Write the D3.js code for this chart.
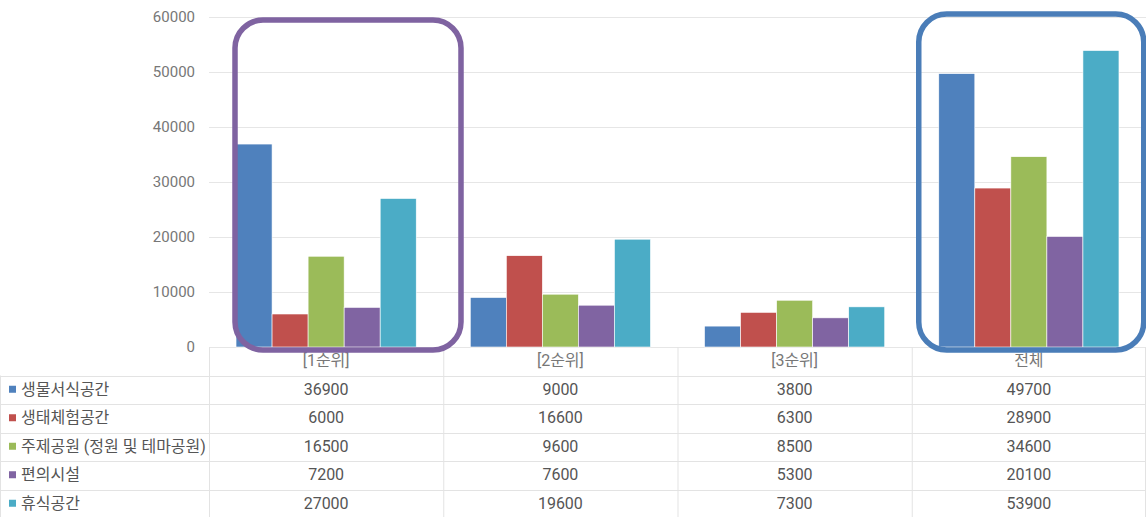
<!DOCTYPE html>
<html>
<head>
<meta charset="utf-8">
<script src="https://cdn.jsdelivr.net/npm/d3@7"></script>
<style>
  body { margin: 0; background: #fff; }
  text { font-family: Roboto, "Noto Sans CJK KR", sans-serif; }
</style>
</head>
<body>
<svg width="1146" height="517"></svg>
<script>
// chart data
var categories = ["[1순위]", "[2순위]", "[3순위]", "전체"];
var seriesNames = ["생물서식공간", "생태체험공간", "주제공원 (정원 및 테마공원)", "편의시설", "휴식공간"];
var seriesColors = ["#4f81bd", "#c0504d", "#9bbb59", "#8064a2", "#4bacc6"];
var bio = [36900, 9000, 3800, 49700];
var eco = [6000, 16600, 6300, 28900];
var theme = [16500, 9600, 8500, 34600];
var conv = [7200, 7600, 5300, 20100];
var rest = [27000, 19600, 7300, 53900];
var yTicks = [0, 10000, 20000, 30000, 40000, 50000, 60000];

var values = [bio, eco, theme, conv, rest];

var svg = d3.select("svg");
// note: "top" is taken by window.top, so use plot* names
var plotLeft = 209, plotRight = 1146, plotTop = 17, plotBottom = 347;
var rowH = 28.5;

var x = d3.scaleBand().domain(categories).range([plotLeft, plotRight]);
var xs = d3.scaleBand().domain(d3.range(seriesNames.length))
    .range([0, x.bandwidth()]).paddingOuter(0.75).paddingInner(0);
var y = d3.scaleLinear().domain([0, 60000]).range([plotBottom, plotTop]);

// gridlines
svg.append("g").selectAll("line").data(yTicks).join("line")
    .attr("x1", plotLeft).attr("x2", plotRight)
    .attr("y1", function(d){ return y(d) + 0.5 })
    .attr("y2", function(d){ return y(d) + 0.5 })
    .attr("stroke", "#e6e6e6").attr("stroke-width", 1);

// y axis labels
var yAxis = d3.axisLeft(y).tickValues(yTicks).tickFormat(d3.format("d")).tickSize(0).tickPadding(14);
var ya = svg.append("g").attr("transform", "translate(" + plotLeft + ",0)").call(yAxis);
ya.select(".domain").remove();
ya.selectAll("text").attr("font-size", 15).attr("fill", "#777");

// bars
var groups = svg.append("g").selectAll("g").data(categories).join("g")
    .attr("transform", function(d){ return "translate(" + x(d) + ",0)" });
groups.selectAll("rect").data(function(d, i){
        return values.map(function(s, j){ return {s: j, v: s[i]} })
    }).join("rect")
    .attr("x", function(d){ return xs(d.s) })
    .attr("width", xs.bandwidth())
    .attr("y", function(d){ return y(d.v) })
    .attr("height", function(d){ return y(0) - y(d.v) })
    .attr("fill", function(d){ return seriesColors[d.s] })
    .attr("stroke", "#fff").attr("stroke-width", 0.6);

// data table
var table = svg.append("g");
var lineColor = "#e3e3e3";
// vertical lines
var vx = [plotLeft].concat(categories.map(function(c){ return x(c) + x.bandwidth() }));
table.selectAll("line.v").data(vx).join("line")
    .attr("class", "v")
    .attr("x1", function(d){ return Math.min(d, plotRight - 1) + 0.5 })
    .attr("x2", function(d){ return Math.min(d, plotRight - 1) + 0.5 })
    .attr("y1", plotBottom).attr("y2", 517)
    .attr("stroke", lineColor);
table.append("line")
    .attr("x1", 0.5).attr("x2", 0.5).attr("y1", plotBottom + rowH).attr("y2", 517)
    .attr("stroke", lineColor);
// horizontal lines
var hy = d3.range(seriesNames.length + 1).map(function(i){ return plotBottom + rowH * (i + 1) });
table.selectAll("line.h").data(hy).join("line")
    .attr("class", "h")
    .attr("x1", 0).attr("x2", plotRight)
    .attr("y1", function(d){ return Math.round(d) + 0.5 })
    .attr("y2", function(d){ return Math.round(d) + 0.5 })
    .attr("stroke", lineColor);

// header
table.selectAll("text.cat").data(categories).join("text")
    .attr("class", "cat")
    .attr("x", function(d){ return x(d) + x.bandwidth() / 2 })
    .attr("y", plotBottom + rowH / 2 + 5)
    .attr("text-anchor", "middle")
    .attr("font-size", 16).attr("fill", "#777")
    .text(function(d){ return d });

// rows
var rows = table.selectAll("g.row").data(seriesNames).join("g")
    .attr("class", "row")
    .attr("transform", function(d, i){ return "translate(0," + (plotBottom + rowH * (i + 1)) + ")" });
rows.append("rect")
    .attr("x", 9).attr("y", rowH / 2 - 4).attr("width", 7).attr("height", 7)
    .attr("fill", function(d, i){ return seriesColors[i] });
rows.append("text")
    .attr("x", 21).attr("y", rowH / 2 + 5)
    .attr("font-size", 16).attr("fill", "#555")
    .text(function(d){ return d });
rows.each(function(d, i){
    d3.select(this).selectAll("text.val").data(values[i]).join("text")
        .attr("class", "val")
        .attr("x", function(v, k){ return x(categories[k]) + x.bandwidth() / 2 })
        .attr("y", rowH / 2 + 5)
        .attr("text-anchor", "middle")
        .attr("font-size", 16).attr("fill", "#555")
        .text(function(v){ return v });
});

// highlight boxes
svg.append("rect")
    .attr("x", x(categories[0]) + 26).attr("y", 20)
    .attr("width", 226).attr("height", 330)
    .attr("rx", 28).attr("ry", 28)
    .attr("fill", "none").attr("stroke", "#7f63a1").attr("stroke-width", 5.5);
svg.append("rect")
    .attr("x", x(categories[3]) + 7).attr("y", 14)
    .attr("width", 225).attr("height", 336)
    .attr("rx", 28).attr("ry", 28)
    .attr("fill", "none").attr("stroke", "#4a7db8").attr("stroke-width", 5.5);
</script>
</body>
</html>
